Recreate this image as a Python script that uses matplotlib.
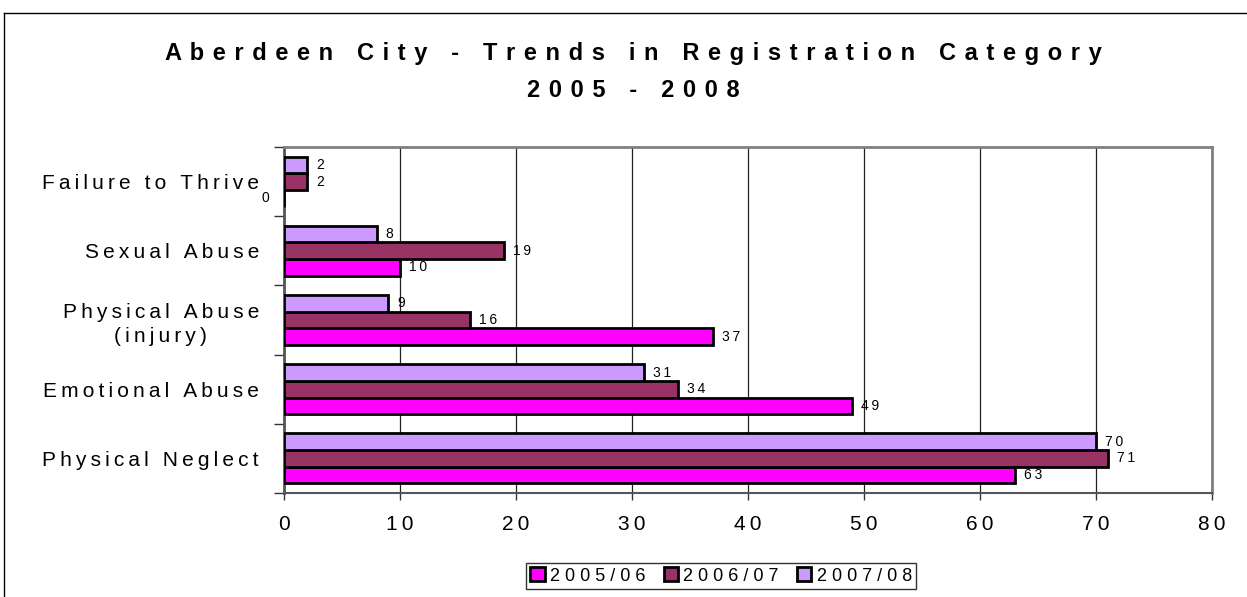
import numpy as np
import matplotlib
matplotlib.use("Agg")
import matplotlib.pyplot as plt
from matplotlib.lines import Line2D
from matplotlib.patches import Patch

plt.rcParams["font.family"] = ["Liberation Sans", "DejaVu Sans"]

categories = ["Physical Neglect", "Emotional Abuse", "Physical Abuse\n(injury)",
              "Sexual Abuse", "Failure to Thrive"]
series_names = ["2005/06", "2006/07", "2007/08"]
vals_0506 = [63, 49, 37, 10, 0]
vals_0607 = [71, 34, 16, 19, 2]
vals_0708 = [70, 31, 9, 8, 2]
x_ticks = [0, 10, 20, 30, 40, 50, 60, 70, 80]

colors = ["#FF00FF", "#993366", "#CC99FF"]
THIN = "\u2009"
HAIR = "\u200a"


def spaced(s, gap=THIN):
    # fake Excel-style letter tracking by putting a narrow space between characters
    return "\n".join(gap.join(line) for line in s.split("\n"))


fig = plt.figure(figsize=(12.47, 5.97), dpi=100)
ax = fig.add_axes([284 / 1247, 104 / 597, 928 / 1247, 346 / 597])

y = np.arange(len(categories))
h = 0.24
for i, (vals, col) in enumerate(zip([vals_0506, vals_0607, vals_0708], colors)):
    pos = y + (i - 1) * h
    ax.barh(pos, vals, height=h, color=col, edgecolor="black", linewidth=2, zorder=3)
    for p, v in zip(pos, vals):
        off = 9 if v > 0 else -19
        ax.annotate(spaced(str(v)), (v, p), xytext=(off, 0), textcoords="offset pixels",
                    ha="left" if v > 0 else "center", va="center", fontsize=10,
                    annotation_clip=False)

ax.set_xlim(0, 80)
ax.set_ylim(-0.5, len(categories) - 0.5)
ax.set_xticks(x_ticks)
ax.set_xticklabels([spaced(str(t)) for t in x_ticks], fontsize=15)
ax.tick_params(axis="x", length=5, width=1, color="#333333", pad=11)
ax.grid(axis="x", color="#222222", linewidth=0.9, zorder=0)

ax.set_yticks(np.arange(-0.5, len(categories)), minor=False)
ax.set_yticklabels([])
ax.tick_params(axis="y", which="major", length=7, width=1, color="#333333")
ax.set_yticks(y, minor=True)
ax.set_yticklabels([spaced(c) for c in categories], minor=True, fontsize=15,
                   multialignment="center")
for t in ax.get_yticklabels(minor=True):
    t.set_linespacing(1.35)
ax.tick_params(axis="y", which="minor", length=0, pad=18)

for side in ["top", "right"]:
    ax.spines[side].set_color("#808080")
    ax.spines[side].set_linewidth(2)
ax.spines["left"].set_color("#555555")
ax.spines["left"].set_linewidth(2)
ax.spines["bottom"].set_color("#555555")
ax.spines["bottom"].set_linewidth(1.5)

fig.text(633 / 1247, 1 - 72 / 597,
         spaced("Aberdeen City - Trends in Registration Category\n2005 - 2008", " " + HAIR),
         ha="center", va="center", fontsize=17, fontweight="bold", linespacing=1.75)

handles = [Patch(facecolor=c, edgecolor="black", linewidth=2) for c in colors]
leg = fig.legend(handles, [spaced(s, " ") for s in series_names], ncol=3, fontsize=13,
                 loc="center", bbox_to_anchor=(721 / 1247, 21 / 597),
                 frameon=True, fancybox=False, handlelength=0.8, handleheight=0.8,
                 handletextpad=0.3, columnspacing=1.0, borderpad=0.25)
leg.get_frame().set_edgecolor("black")
leg.get_frame().set_linewidth(1)

fig.add_artist(Line2D([4 / 1247, 4 / 1247], [0, 1 - 13 / 597], transform=fig.transFigure,
                      color="black", linewidth=1))
fig.add_artist(Line2D([4 / 1247, 1], [1 - 13 / 597, 1 - 13 / 597], transform=fig.transFigure,
                      color="black", linewidth=1))

fig.savefig("out.png", dpi=100)
